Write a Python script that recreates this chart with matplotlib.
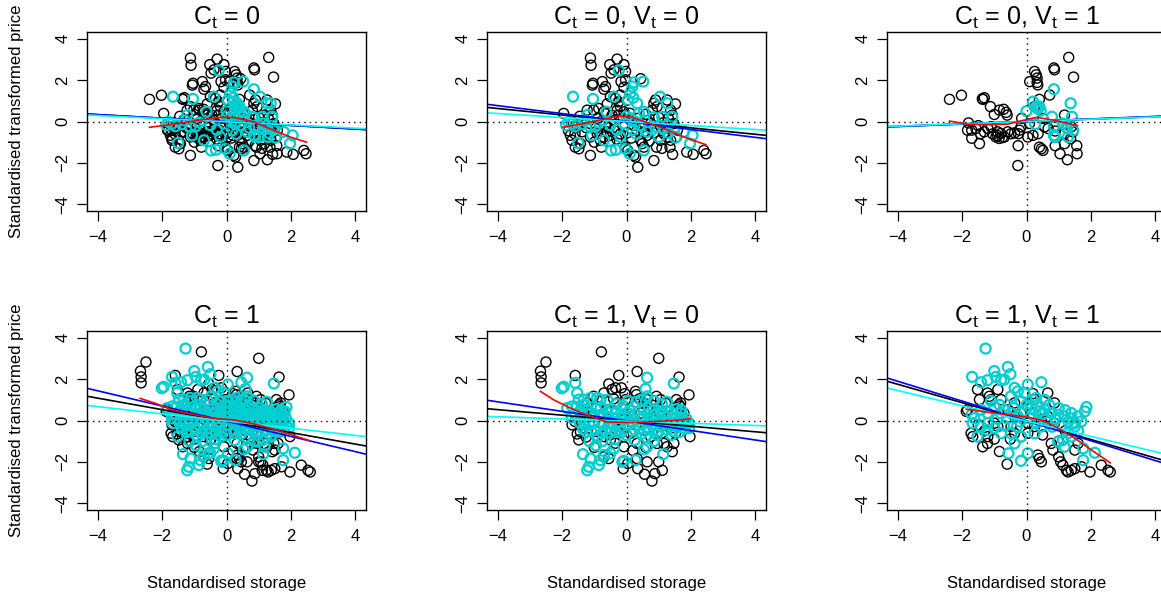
import numpy as np
import matplotlib
matplotlib.use("Agg")
import matplotlib.pyplot as plt

plt.rcParams['font.family'] = ['Liberation Sans', 'DejaVu Sans']
plt.rcParams['mathtext.default'] = 'regular'

# --- points (storage, price) ---
c0v0_black = [
    (-1.12, 3.07), (-1.10, 2.72), (-1.04, 1.85), (-1.06, 1.76), (-0.75, 1.93), (-0.70, 1.56), (-0.65, 1.69),
    (-0.52, 2.75), (-0.48, 2.34), (-0.39, 2.50), (-0.29, 3.02), (-0.08, 2.75), (-0.03, 2.42), (-0.17, 1.93),
    (-0.03, 2.02), (-0.08, 1.66), (-0.19, 1.28), (-0.34, 1.12), (-0.50, 1.20), (0.44, 2.07),
    (-1.95, 0.39), (-1.74, -0.67), (-1.69, -0.91), (-1.59, -1.24), (-1.48, -1.32), (-1.43, -1.07), (-1.53, -0.26),
    (-1.12, -1.64), (-0.78, -1.24), (-1.22, 0.55), (-1.02, 0.55), (-0.86, 0.63), (-0.70, 0.47),
    (-1.12, -0.10), (-0.91, -0.59), (-0.70, -0.75), (-0.60, -0.50), (-0.50, -0.67), (-0.39, -0.42),
    (-0.29, 0.55), (-0.19, 0.72), (-0.08, 0.47), (-0.24, 0.31), (0.12, 0.07), (0.23, -0.18), (0.33, -0.42),
    (0.54, -0.50), (0.64, -0.67), (-0.03, -1.24), (0.04, -1.40), (0.23, -1.64), (0.28, -1.72), (0.35, -2.21),
    (0.44, -0.91), (0.49, -1.07), (0.54, -1.24), (0.85, -1.89), (0.93, -1.24), (0.85, 0.88), (0.95, 0.72),
    (0.90, 1.04), (1.26, 1.04), (1.52, 0.85), (1.37, 0.55), (1.42, 0.31), (1.37, -0.91), (1.35, -1.24),
    (1.43, -1.59), (1.16, -0.59), (1.06, -0.91), (1.21, -0.34), (1.87, -1.48), (2.07, -1.59), (2.40, -1.40),
    (2.47, -1.56), (1.58, -0.42), (1.47, -0.10),
    (-1.33, 0.07), (-1.38, -0.50), (-1.12, -0.75), (-0.96, -0.34), (-0.81, -0.91), (-0.66, -0.18),
    (-0.52, -0.95), (-0.39, 0.05), (-0.19, -0.60), (-0.08, -0.25), (0.02, -0.55), (0.75, -0.10), (0.85, -0.55),
    (1.06, -0.25), (1.26, -0.75), (-1.80, -0.45), (-1.65, -0.05), (-1.25, -0.30), (-0.90, 0.15), (-0.45, 0.30),
    (0.35, 0.15), (0.60, 0.35), (1.00, 0.20), (1.10, -1.30), (0.70, -0.95), (-0.60, 0.85), (-0.25, 0.95),
    (-1.60, -0.60), (-1.00, -1.00), (-0.55, -0.30), (-0.30, -0.85), (0.15, -0.80), (0.45, -0.30), (0.65, 0.05),
    (1.15, -0.05), (1.30, 0.15), (-1.45, 0.25), (-0.75, 0.05), (0.10, 0.40), (0.80, 0.55), (1.55, -0.75),
]
c0v0_cyan = [
    (-1.66, 1.20), (-1.04, 1.09), (-1.87, -0.18), (-1.80, -0.02), (-1.69, -0.10), (-1.59, -0.23), (-1.50, -1.04),
    (-1.38, -0.13), (-1.22, 0.31), (-1.12, -0.26), (-1.07, -0.67), (-0.96, -0.23), (-0.70, -0.91), (-0.62, 0.47),
    (-0.50, -0.18), (-0.39, 1.20), (-0.48, -1.40), (-0.33, -1.37), (-0.24, 2.47), (-0.19, -0.75), (-0.08, -0.10),
    (-0.03, -1.32), (0.10, -1.56), (0.04, 1.04), (0.12, 1.37), (0.18, 1.69), (0.23, 1.89), (0.21, 1.15),
    (0.33, 0.88), (0.38, 0.39), (0.52, 1.93), (0.54, -1.40), (0.54, 0.47), (0.44, -0.18), (0.64, -0.50),
    (0.12, 0.15), (0.28, -0.02), (0.18, -0.42), (0.85, 0.20), (0.90, -0.26), (1.00, -0.75), (1.04, 1.20),
    (1.11, 0.23), (1.16, -0.34), (1.26, 0.88), (1.42, 0.23), (1.47, -0.34), (1.52, -0.78), (1.78, -0.50),
    (1.97, -1.07), (2.05, -0.67),
    (-0.85, -0.05), (-0.30, -0.40), (0.00, 0.25), (0.70, -0.30), (1.30, -0.55), (-1.30, 0.05), (0.30, -0.60),
]
c0v1_black = [
    (-2.39, 1.07), (-2.02, 1.27), (-1.37, 1.10), (-1.31, 1.15), (-1.35, 1.07), (-1.12, 0.72), (-1.00, 0.34),
    (-0.84, 0.55), (-0.71, 0.59), (-0.63, 0.44), (-0.60, 0.31), (-1.80, -0.07), (-1.83, -0.42), (-1.70, -0.42),
    (-1.57, -0.34), (-1.70, -0.81), (-1.46, -1.07), (-1.43, -0.59), (-1.31, -0.50), (-1.20, -0.34),
    (-1.05, -0.60), (-0.95, -0.75), (-0.90, -0.68), (-0.85, -0.82), (-0.75, -0.78), (-0.90, -0.50), (-0.80, -0.58),
    (-0.69, -0.75), (-0.58, -0.50), (-0.48, -0.59), (-0.37, -0.55), (-0.26, -1.17), (-0.27, -2.13),
    (-0.25, -0.59), (-0.22, -0.42), (-0.17, -0.26), (-0.15, 0.15), (0.04, -0.75), (0.20, -0.67), (0.36, -0.59),
    (0.10, 1.93), (0.25, 2.42), (0.30, 2.26), (0.33, 2.10), (0.35, 1.77), (0.33, 1.89), (0.40, 1.07), (0.25, 0.72),
    (0.51, 0.15), (0.56, -0.26), (0.67, -0.34), (0.40, -1.24), (0.46, -1.32), (0.51, -1.40), (0.72, 1.28),
    (0.85, 2.59), (0.87, 2.50), (0.89, -0.46), (0.89, -0.75), (0.89, -1.17), (1.04, -1.56), (1.18, 0.31),
    (1.18, -0.59), (1.18, -1.07), (1.27, -1.85), (1.31, 3.10), (1.46, 2.15), (1.39, -0.26), (1.44, -0.50),
    (1.37, -0.83), (1.56, -1.17), (1.57, -1.56), (0.87, -0.26), (0.09, -0.10), (-1.10, -0.25), (-1.50, -0.20),
]
c0v1_cyan = [
    (0.00, 0.50), (0.20, 0.96), (0.30, 0.72), (0.35, 0.63), (0.44, 0.52), (0.40, 0.72), (0.27, -0.13),
    (0.85, 1.56), (0.79, 0.23), (0.85, -0.23), (0.85, -0.67), (0.89, -0.75), (1.13, -0.10), (1.24, -0.26),
    (1.37, 0.88), (1.41, 0.23), (1.45, -0.42), (1.29, -0.75), (1.27, -0.34),
]
c1v0_black = [
    (-2.67, 2.39), (-2.65, 2.11), (-2.65, 1.82), (-2.50, 2.83), (-1.59, 2.18), (-0.78, 3.32), (-0.24, 2.18),
    (0.33, 2.37), (1.00, 3.01), (1.63, 2.10), (1.94, 1.24), (-1.69, -0.21), (-1.48, -0.94), (-1.43, -0.55),
    (-1.53, -0.65), (-0.55, 1.77), (-0.45, 1.50), (-0.34, 1.58), (-0.16, 1.58), (-0.05, 1.30), (0.28, 1.41),
    (0.31, 1.25), (0.93, 1.17), (1.06, 1.01), (1.21, 0.85), (1.55, 1.01), (1.63, 0.76), (1.68, 0.85),
    (1.66, 0.68), (1.52, -0.62), (1.47, -1.11), (1.42, -1.51), (1.97, -0.78), (-0.08, -1.27), (-0.10, -2.33),
    (0.04, -2.08), (0.33, -1.84), (0.35, -2.33), (0.56, -2.60), (0.64, -2.00), (0.79, -2.93), (0.88, -2.57),
    (1.00, -2.00), (1.11, -2.41), (1.16, -1.11), (1.26, -1.27), (-0.70, -1.76), (-0.55, -1.84),
    (-0.91, -0.54), (-0.70, -0.78), (-0.50, -0.94), (-0.29, -0.46), (-0.08, -0.78), (0.12, -0.62), (0.33, -1.11),
    (0.54, -0.46), (0.75, -0.78), (0.95, -1.11), (-0.50, -0.13), (-0.19, 0.03), (0.12, 0.20), (0.44, 0.36),
    (0.75, 0.52), (1.06, 0.20), (1.26, -0.13), (-1.12, 0.20), (-1.33, 0.36), (-0.91, 0.68), (-0.60, 0.52),
    (-0.08, 0.68), (0.54, 0.85), (0.85, 0.03), (1.37, 0.20), (1.78, 0.36), (-1.22, 0.85), (-1.02, 1.17),
    (-0.81, 1.01), (-0.70, 1.33), (-0.29, 0.85), (-0.03, 1.01), (0.64, 1.01),
    (-1.60, -0.05), (-1.25, -0.80), (-1.00, -1.30), (-0.35, -1.10), (0.20, -1.45), (0.60, -1.30), (1.10, -0.60),
    (1.45, -0.35), (1.75, -0.05), (0.40, 1.05), (-0.40, 1.05), (0.95, 0.60), (1.60, 0.45),
]
c1v0_cyan = [
    (-2.01, 1.56), (-1.95, 1.63), (-1.59, 1.82), (-1.84, 0.60), (-1.69, 0.68), (-1.53, 1.33), (-1.48, 1.01),
    (-1.33, 1.01), (-1.12, 1.09), (-0.91, 1.09), (-0.81, 1.01), (-1.35, -1.63), (-1.22, -2.41), (-1.17, -2.24),
    (-1.12, -1.84), (-0.86, -2.16), (-0.81, -1.92), (-0.70, -1.67), (-0.50, -1.59), (-0.39, -1.35), (-0.13, -2.00),
    (-0.08, -1.95), (0.28, -1.92), (0.54, -1.40), (0.64, -1.27), (0.64, 2.07), (0.59, 1.53), (0.64, 1.17),
    (1.14, -1.63), (1.47, 1.79), (1.68, 0.36), (1.73, 0.11), (1.94, -0.13), (1.94, -0.37),
    (-1.60, 0.30), (-1.40, 0.10), (-1.30, -0.20), (-1.20, 0.50), (-1.10, -0.50), (-1.00, 0.20), (-0.90, -0.80),
    (-0.80, 0.60), (-0.70, -0.20), (-0.60, 0.40), (-0.50, -0.60), (-0.40, 0.10), (-0.30, 0.80), (-0.20, -0.30),
    (-0.10, 0.30), (0.00, -0.70), (0.10, 0.50), (0.20, -0.10), (0.30, 0.90), (0.40, -0.40), (0.50, 0.20),
    (0.60, -0.80), (0.70, 0.60), (0.80, -0.20), (0.90, 0.30), (1.00, -0.50), (1.10, 0.80), (1.20, -0.10),
    (1.30, 0.40), (1.40, -0.70), (1.50, 0.10), (1.60, -0.30), (1.70, 0.50), (1.80, -0.40),
    (-1.70, 0.15), (-1.45, 0.45), (-1.25, -0.55), (-1.05, -0.10), (-0.85, 0.25), (-0.65, -0.45), (-0.45, 0.55),
    (-0.25, -0.05), (-0.05, -0.40), (0.15, 0.15), (0.35, -0.20), (0.55, 0.50), (0.75, 0.05), (0.95, -0.70),
    (1.15, 0.30), (1.35, -0.25), (1.55, 0.55), (1.75, -0.10), (-1.15, -1.00), (-0.95, -1.20), (-0.75, -1.00),
    (-0.35, -0.90), (0.05, 0.95), (0.45, 1.00), (0.85, 0.95), (1.25, 0.90), (0.25, -0.95), (0.85, -1.00),
    (-0.60, 1.00), (-0.10, 0.70), (0.60, -0.10), (1.05, 0.00), (-0.55, -0.10), (-1.45, -0.10),
    (-1.55, 0.65), (-1.35, 0.75), (-1.10, 0.35), (-0.95, 0.55), (-0.75, 0.30), (-0.55, 0.15), (-0.35, 0.35),
    (-0.15, 0.10), (0.05, 0.35), (0.25, 0.30), (0.45, 0.10), (0.65, 0.30), (0.85, 0.55), (1.05, 0.45),
    (1.25, 0.15), (1.45, 0.35), (1.65, 0.15), (1.85, 0.10), (-1.35, -0.40), (-1.15, -0.20), (-0.95, -0.45),
    (-0.75, -0.60), (-0.55, -0.35), (-0.35, -0.55), (-0.15, -0.55), (0.05, -0.20), (0.25, -0.45), (0.45, -0.65),
    (0.65, -0.45), (0.85, -0.45), (1.05, -0.25), (1.25, -0.45), (1.45, -0.50), (1.65, -0.55), (1.85, -0.20),
]
c1v1_black = [
    (-1.87, 0.44), (-1.83, 0.52), (-1.72, -0.62), (-1.67, -0.78), (-1.36, -1.27), (-1.21, -1.11), (-1.20, -0.78),
    (-1.52, 1.50), (-1.46, 1.01), (-1.21, 1.33), (-1.15, 1.17), (-1.10, 1.01), (-0.89, 1.50), (-0.79, 1.01),
    (-0.84, -1.50), (-0.60, -2.11), (0.35, -1.67), (0.40, -1.84), (0.46, -2.00),
    (0.77, -1.11), (0.82, -1.43), (1.00, -1.76), (1.06, -2.00), (1.13, -2.16), (1.24, -2.41), (1.29, -2.49),
    (1.39, -2.41), (1.50, -2.33), (1.71, -2.24), (1.97, -2.49), (2.32, -2.16), (2.53, -2.41), (2.60, -2.49),
    (1.50, -1.43), (1.60, -1.11),
    (-0.37, 0.20), (-0.17, 0.36), (0.04, -0.13), (0.25, -0.29), (0.46, 0.03), (0.66, 0.20), (0.87, -0.13),
    (0.04, 0.68), (0.25, 1.01), (-0.37, 0.85), (-0.58, 0.52), (0.66, 1.33), (0.87, 0.85), (0.04, -0.62),
    (-0.17, -0.78), (-0.37, -0.62), (-0.48, -0.29), (-0.89, -0.29), (-1.00, -0.13),
    (-1.50, -0.20), (-1.30, -0.50), (-1.00, -0.90), (0.20, 1.30), (0.50, -0.70), (1.20, -0.50), (1.00, -1.00),
    (-0.50, -0.90),
]
c1v1_cyan = [
    (-1.27, 3.48), (-1.69, 2.11), (-1.41, 1.85), (-1.21, 1.95), (-1.00, 2.39), (-0.95, 2.11), (-0.79, 1.95),
    (-0.58, 2.59), (-0.50, 2.24), (-0.69, 1.98), (0.04, 1.74), (0.46, 1.85), (-0.37, 1.58), (-0.27, 1.41),
    (-0.06, 1.33), (-0.48, 1.17), (-0.17, 0.93), (0.20, 1.00), (0.30, 1.09), (0.56, 1.00), (-1.62, 0.11),
    (-1.67, -0.13),
    (-1.41, 0.52), (-1.21, 0.36), (-1.00, 0.68), (-0.84, 0.76), (-0.69, 0.52), (-0.48, 0.36), (-0.27, 0.20),
    (-0.06, 0.44), (0.15, 0.60), (0.35, 0.76), (0.56, 0.52), (0.77, 0.36), (0.98, 0.28), (1.18, 0.20),
    (1.39, 0.36), (1.60, 0.20), (1.81, 0.44), (1.70, -0.05), (1.50, -0.13),
    (1.86, 0.65), (1.50, -0.29), (1.39, -0.78), (1.29, -0.62), (1.13, -0.94), (0.98, -1.02), (1.18, -1.27),
    (2.12, -1.56), (1.76, -1.35), (1.76, -1.92), (-0.56, -1.59), (-0.17, -1.95), (0.04, -1.59),
    (-0.37, -1.11), (-0.79, -0.62), (-1.00, -0.37), (-1.21, -0.46), (-1.41, -0.29), (-0.48, -0.62),
    (-0.17, -0.78), (0.25, -0.62), (0.46, -0.29), (-1.52, -0.78), (-1.21, -0.13),
    (0.10, 0.10), (0.30, -0.10), (0.60, 0.10), (0.80, -0.30), (1.00, 0.60), (1.20, 0.50), (-0.90, 0.10),
    (-0.30, -0.30), (0.50, 0.30), (1.40, 0.10), (-1.70, 0.30),
    (-0.80, 0.35), (-0.60, 0.10), (-0.40, 0.60), (-0.20, -0.05), (0.00, 0.75), (0.20, 0.30), (0.40, 0.45),
    (0.70, 0.75), (0.90, 0.05), (1.10, -0.20), (1.30, -0.05), (1.60, -0.50), (-1.10, 0.95), (-0.70, -0.25),
]

titles = ["C$_t$ = 0", "C$_t$ = 0, V$_t$ = 0", "C$_t$ = 0, V$_t$ = 1",
          "C$_t$ = 1", "C$_t$ = 1, V$_t$ = 0", "C$_t$ = 1, V$_t$ = 1"]

# straight fits as (intercept, slope)
fit_black = [(-0.015, -0.087), (0.005, -0.156), (0.0, 0.058), (-0.03, -0.278), (-0.01, -0.134), (-0.03, -0.446)]
fit_blue = [(-0.015, -0.087), (0.0, -0.192), (0.0, 0.062), (-0.035, -0.368), (-0.02, -0.231), (-0.02, -0.48)]
fit_cyan = [(-0.015, -0.077), (0.0, -0.097), (0.0, 0.056), (-0.025, -0.174), (-0.03, -0.053), (-0.03, -0.37)]

# smooth (red) curves
smooth_x = [
    [-2.39, -1.65, -0.82, -0.20, 0.22, 0.84, 1.46, 1.98, 2.48],
    [-1.99, -1.33, -0.70, -0.19, 0.12, 0.54, 1.16, 1.78, 2.46],
    [-2.39, -1.83, -1.20, -0.58, -0.17, 0.30, 0.87, 1.58],
    [-2.68, -2.17, -1.65, -1.03, -0.40, 0.22, 0.84, 1.46, 2.08, 2.58],
    [-2.67, -2.26, -1.74, -1.12, -0.60, 0.12, 0.95, 1.68, 1.97],
    [-1.87, -1.20, -0.58, 0.04, 0.56, 0.98, 1.50, 2.02, 2.60],
]
smooth_y = [
    [-0.28, -0.13, 0.07, 0.20, 0.20, -0.02, -0.42, -0.75, -1.00],
    [-0.28, -0.10, 0.11, 0.26, 0.23, 0.00, -0.34, -0.75, -1.12],
    [0.02, -0.13, -0.16, -0.13, 0.03, 0.20, 0.06, -0.20],
    [1.07, 0.81, 0.49, 0.29, 0.10, 0.03, -0.16, -0.42, -0.72, -0.98],
    [1.41, 1.00, 0.60, 0.20, -0.07, -0.10, -0.05, 0.03, 0.08],
    [0.55, 0.40, 0.28, 0.16, -0.03, -0.37, -0.86, -1.43, -2.05],
]

black_groups = [c0v0_black + c0v1_black, c0v0_black, c0v1_black,
                c1v0_black + c1v1_black, c1v0_black, c1v1_black]
cyan_groups = [c0v0_cyan + c0v1_cyan, c0v0_cyan, c0v1_cyan,
               c1v0_cyan + c1v1_cyan, c1v0_cyan, c1v1_cyan]

fig = plt.figure(figsize=(11.61, 5.97), dpi=100)
lefts = [87 / 1161, 487 / 1161, 887 / 1161]
bottoms = [386 / 597, 87 / 597]
w, h = 279 / 1161, 179 / 597
lim = 4.33
xx = np.array([-lim, lim])

for i in range(6):
    r, c = divmod(i, 3)
    ax = fig.add_axes([lefts[c], bottoms[r], w, h])
    ax.set_xlim(-lim, lim)
    ax.set_ylim(-lim, lim)

    ax.axhline(0, color='black', lw=1.0, ls=(0, (1, 3)))
    ax.axvline(0, color='black', lw=1.0, ls=(0, (1, 3)))

    pb = np.array(black_groups[i])
    pc = np.array(cyan_groups[i])
    ax.scatter(pb[:, 0], pb[:, 1], s=52, facecolors='none', edgecolors='black', linewidths=1.0)
    ax.scatter(pc[:, 0], pc[:, 1], s=52, facecolors='none', edgecolors='#00CED1', linewidths=1.6)

    for fit, col in [(fit_black[i], 'black'), (fit_blue[i], 'blue'), (fit_cyan[i], 'cyan')]:
        ax.plot(xx, fit[0] + fit[1] * xx, color=col, lw=1.2)
    ax.plot(smooth_x[i], smooth_y[i], color='red', lw=1.2)

    ax.set_title(titles[i], fontsize=18, pad=5)
    ticks = [-4, -2, 0, 2, 4]
    ax.set_xticks(ticks)
    ax.set_yticks(ticks)
    ax.tick_params(direction='out', length=7, width=0.9, labelsize=12, pad=7)
    ax.tick_params(axis='y', labelrotation=90, pad=5)
    for lab in ax.get_yticklabels():
        lab.set_va('center')
    for sp in ax.spines.values():
        sp.set_linewidth(1.0)

    if c == 0:
        ax.set_ylabel("Standardised transformed price", fontsize=12)
        ax.yaxis.set_label_coords(-0.225, 0.5)
    if r == 1:
        ax.set_xlabel("Standardised storage", fontsize=12)
        ax.xaxis.set_label_coords(0.5, -0.37)

fig.savefig("out.png", dpi=100)
